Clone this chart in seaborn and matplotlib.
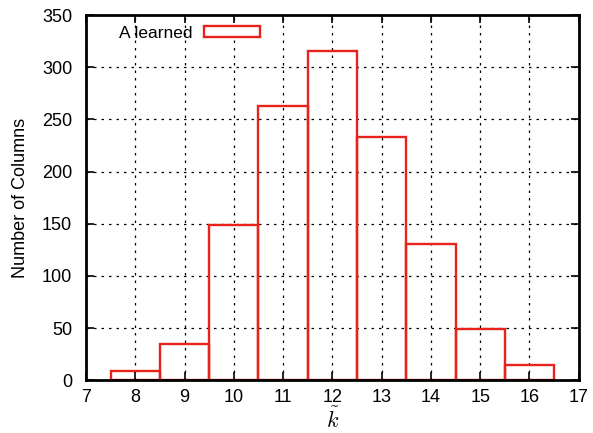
import matplotlib
matplotlib.use('Agg')
import matplotlib.pyplot as plt
from matplotlib.patches import Patch
from matplotlib.ticker import MultipleLocator
import seaborn as sns
import pandas as pd

# valores
k_values = [8, 9, 10, 11, 12, 13, 14, 15, 16]
n_columns = [9, 35, 149, 263, 316, 233, 131, 49, 15]
legend_label = 'A learned'

df = pd.DataFrame({'k': k_values, 'count': n_columns})

sns.set_style('ticks')
plt.rcParams['font.family'] = ['Liberation Sans', 'DejaVu Sans']
plt.rcParams['mathtext.fontset'] = 'cm'
plt.rcParams['text.color'] = 'black'
plt.rcParams['axes.labelcolor'] = 'black'
plt.rcParams['xtick.color'] = 'black'
plt.rcParams['ytick.color'] = 'black'

fig = plt.figure(figsize=(5.93, 4.33), dpi=100)
ax = fig.add_axes([0.145, 0.122, 0.831, 0.843])

# grid pontilhada atras das barras
ax.set_axisbelow(True)
ax.grid(True, color='black', linestyle=(0, (2, 4)), linewidth=0.9)

red = '#e8231b'
sns.histplot(data=df, x='k', weights='count', discrete=True, fill=False,
             element='bars', color=red, linewidth=1.7, ax=ax)

ax.set_xlim(7, 17)
ax.set_ylim(0, 350)
ax.xaxis.set_major_locator(MultipleLocator(1))
ax.yaxis.set_major_locator(MultipleLocator(50))

ax.tick_params(axis='both', which='both', direction='in', top=True, right=True,
               length=6, width=1.2, labelsize=13, color='black')
ax.tick_params(axis='x', pad=6)
ax.tick_params(axis='y', pad=10)
for side in ax.spines.values():
    side.set_linewidth(2.0)
    side.set_color('black')

ax.set_xlabel(r'$\tilde{k}$', fontsize=16)
ax.xaxis.set_label_coords(0.5, -0.076)
ax.set_ylabel('Number of Columns', fontsize=13, labelpad=9)

handle = Patch(facecolor='white', edgecolor=red, linewidth=1.7)
ax.legend([handle], [legend_label], loc='center left', bbox_to_anchor=(0.066, 0.951),
          frameon=False, markerfirst=False, fontsize=12.5, handlelength=3.2,
          handleheight=0.6, handletextpad=0.7, borderpad=0, borderaxespad=0)

plt.savefig('out.png', dpi=100)
plt.close()
